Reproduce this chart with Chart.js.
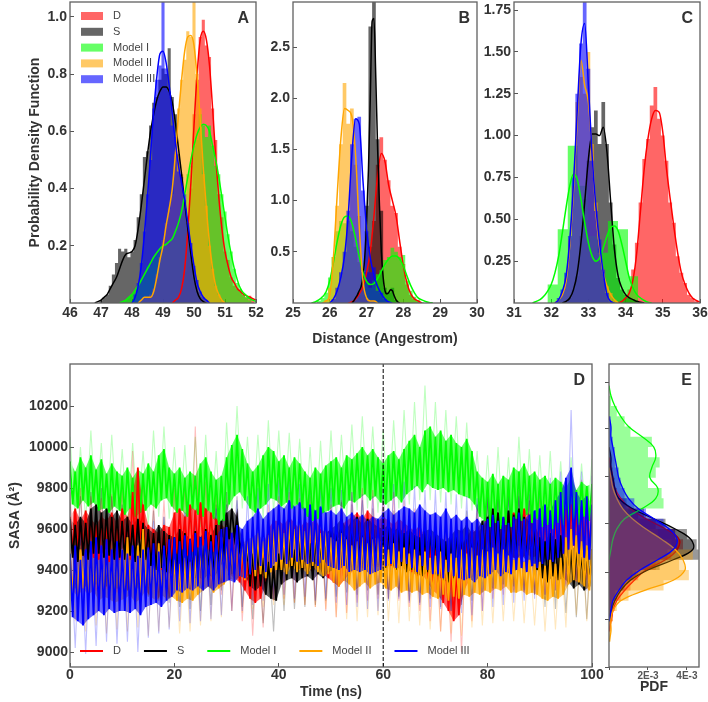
<!DOCTYPE html>
<html>
<head>
<meta charset="utf-8">
<script src="https://cdn.jsdelivr.net/npm/chart.js@4.4.1/dist/chart.umd.min.js"></script>
<style>
  html, body { margin: 0; padding: 0; background: #fff; }
  body { position: relative; width: 708px; height: 702px; overflow: hidden; }
  canvas { position: absolute; }
</style>
</head>
<body>
<canvas id="panelA" width="268" height="353" style="left:0;top:0"></canvas>
<canvas id="panelB" width="249" height="353" style="left:240px;top:0"></canvas>
<canvas id="panelC" width="228" height="353" style="left:480px;top:0"></canvas>
<canvas id="panelD" width="604" height="349" style="left:0;top:353px"></canvas>
<canvas id="panelE" width="116" height="349" style="left:592px;top:353px"></canvas>
<script>
// series: D, S, Model I, Model II, Model III
const seriesNames = ['D', 'S', 'Model I', 'Model II', 'Model III'];
const seriesColors = ['#ff0000', '#000000', '#00ff00', '#ffa500', '#0000ff'];
const seriesRgb = ['255,0,0', '0,0,0', '0,255,0', '255,165,0', '0,0,255'];

// ---- panel A (distance 46-52)
const aKdeStart = [49.3, 46.8, 47.6, 48.2, 48.0];
const aKdeD = [0.00,0.01,0.02,0.05,0.12,0.25,0.42,0.62,0.80,0.92,0.95,0.92,0.83,0.68,0.51,0.37,0.26,0.18,0.13,0.09,0.07,0.05,0.04,0.03,0.025,0.02,0.015,0.01];
const aKdeS = [0.00,0.005,0.01,0.02,0.03,0.05,0.07,0.09,0.12,0.15,0.17,0.175,0.18,0.20,0.26,0.34,0.43,0.52,0.60,0.66,0.71,0.74,0.755,0.755,0.74,0.70,0.63,0.54,0.45,0.35,0.26,0.17,0.09,0.04,0.015,0.005,0.0];
const aKdeM1 = [0.0,0.005,0.01,0.02,0.03,0.045,0.06,0.08,0.10,0.12,0.14,0.16,0.175,0.19,0.20,0.205,0.215,0.225,0.25,0.28,0.32,0.38,0.44,0.50,0.55,0.59,0.615,0.625,0.62,0.60,0.55,0.50,0.44,0.37,0.30,0.23,0.17,0.12,0.08,0.05,0.035,0.025,0.015,0.01,0.005];
const aKdeM2 = [0.0,0.01,0.02,0.02,0.02,0.04,0.09,0.15,0.20,0.27,0.33,0.40,0.52,0.66,0.78,0.88,0.93,0.935,0.90,0.79,0.64,0.47,0.33,0.21,0.12,0.06,0.03,0.01,0.0];
const aKdeM3 = [0.0,0.02,0.06,0.13,0.24,0.37,0.52,0.67,0.79,0.87,0.88,0.84,0.76,0.66,0.56,0.48,0.42,0.36,0.28,0.20,0.13,0.07,0.04,0.02,0.01,0.0];
const aHistStart = [49.3, 47.0, 47.8, 48.3, 48.1];
const aHistD = [0,0.01,0.02,0.06,0.11,0.27,0.40,0.66,0.78,0.93,0.99,0.90,0.86,0.68,0.57,0.38,0.30,0.18,0.15,0.09,0.06,0.05,0.04,0.03,0.02,0.025,0.01];
const aHistS = [0.01,0.02,0.03,0.06,0.10,0.14,0.19,0.18,0.19,0.16,0.18,0.22,0.30,0.38,0.51,0.53,0.62,0.70,0.72,0.78,0.82,0.80,0.89,0.72,0.66,0.52,0.45,0.33,0.27,0.16,0.09,0.04,0.02];
const aHistM1 = [0.01,0.02,0.03,0.04,0.06,0.08,0.10,0.13,0.13,0.16,0.17,0.19,0.20,0.21,0.20,0.23,0.26,0.27,0.33,0.36,0.45,0.48,0.55,0.57,0.66,0.62,0.58,0.62,0.55,0.48,0.45,0.38,0.32,0.24,0.18,0.12,0.07,0.05,0.03,0.02,0.01];
const aHistM2 = [0.01,0.02,0.02,0.03,0.05,0.10,0.16,0.22,0.28,0.33,0.38,0.52,0.68,0.78,0.85,0.95,0.93,1.10,0.80,0.68,0.45,0.34,0.20,0.12,0.06,0.03,0.01];
const aHistM3 = [0.03,0.07,0.14,0.25,0.38,0.50,0.68,0.78,0.83,1.10,0.82,0.74,0.62,0.58,0.46,0.44,0.38,0.28,0.21,0.13,0.08,0.04,0.02,0.01];
const aXTicks = [46, 47, 48, 49, 50, 51, 52];
const aYTicks = [0.2, 0.4, 0.6, 0.8, 1.0];

// ---- panel B (distance 25-30)
const bKdeStart = [26.5, 26.6, 25.5, 25.8, 26.0];
const bKdeStep = [0.1, 0.05, 0.1, 0.1, 0.1];
const bKdeD = [0.0,0.01,0.04,0.09,0.16,0.30,0.50,0.85,1.25,1.46,1.38,1.15,1.00,0.85,0.60,0.36,0.19,0.09,0.04,0.02,0.0];
const bKdeS = [0.0,0.02,0.05,0.08,0.12,0.16,0.25,0.45,0.80,1.30,2.00,2.75,2.78,2.20,1.50,0.95,0.50,0.25,0.12,0.09,0.10,0.13,0.12,0.07,0.03,0.01,0.0];
const bKdeM1 = [0.0,0.01,0.03,0.06,0.11,0.22,0.40,0.60,0.76,0.84,0.85,0.78,0.63,0.45,0.30,0.21,0.18,0.19,0.24,0.31,0.38,0.43,0.46,0.46,0.43,0.36,0.26,0.17,0.10,0.05,0.03,0.015,0.005,0.0];
const bKdeM2 = [0.0,0.02,0.08,0.45,1.05,1.60,1.90,1.88,1.82,1.45,0.75,0.22,0.05,0.02,0.02,0.0];
const bKdeM3 = [0.0,0.04,0.12,0.25,0.46,0.85,1.45,1.80,1.75,1.20,0.72,0.44,0.27,0.16,0.09,0.04,0.01,0.0];
const bHistStart = [26.6, 26.7, 25.7, 25.9, 26.1];
const bHistD = [0.01,0.03,0.08,0.17,0.30,0.55,0.80,1.35,1.62,1.40,1.20,0.95,0.88,0.55,0.38,0.18,0.08,0.04,0.02];
const bHistS = [0.03,0.10,0.30,0.95,2.70,3.00,1.60,0.90,0.15,0.10,0.15,0.03];
const bHistM1 = [0.02,0.05,0.10,0.25,0.45,0.70,0.80,0.78,0.80,0.70,0.55,0.40,0.28,0.20,0.15,0.22,0.28,0.32,0.42,0.45,0.54,0.50,0.45,0.47,0.22,0.12,0.06,0.03,0.01];
const bHistM2 = [0.03,0.15,0.45,0.95,1.55,2.15,1.75,1.90,1.35,0.85,0.20,0.05,0.02,0.03];
const bHistM3 = [0.04,0.15,0.30,0.50,0.90,1.55,1.80,1.82,1.10,0.70,0.30,0.35,0.12,0.10,0.04,0.01];
const bXTicks = [25, 26, 27, 28, 29, 30];
const bYTicks = [0.5, 1.0, 1.5, 2.0, 2.5];

// ---- panel C (distance 31-36)
const cKdeStart = [33.8, 32.3, 31.5, 32.1, 32.1];
const cKdeD = [0.0,0.01,0.03,0.06,0.14,0.30,0.55,0.80,0.98,1.10,1.15,1.14,1.02,0.80,0.62,0.45,0.30,0.18,0.11,0.06,0.03,0.015,0.005];
const cKdeS = [0.0,0.01,0.03,0.08,0.18,0.36,0.60,0.86,1.01,1.01,1.00,1.05,0.90,0.60,0.32,0.16,0.09,0.05,0.03,0.02,0.01,0.005,0.0];
const cKdeM1 = [0.0,0.01,0.02,0.04,0.07,0.11,0.18,0.28,0.42,0.57,0.70,0.77,0.74,0.62,0.48,0.36,0.28,0.25,0.27,0.33,0.40,0.45,0.46,0.43,0.35,0.25,0.15,0.09,0.05,0.03,0.015,0.005,0.0];
const cKdeM2 = [0.0,0.02,0.05,0.13,0.35,0.68,1.10,1.45,1.30,1.20,0.90,0.55,0.33,0.18,0.10,0.05,0.02,0.0];
const cKdeM3 = [0.0,0.02,0.07,0.16,0.38,0.72,1.15,1.55,1.67,1.30,0.88,0.58,0.36,0.18,0.05,0.01,0.0];
const cHistStart = [33.9, 32.5, 32.04, 32.2, 32.2];
const cHistStep = [0.1, 0.1, 0.27, 0.1, 0.1];
const cHistD = [0.01,0.03,0.08,0.20,0.36,0.60,0.86,0.98,1.18,1.29,1.10,1.00,0.85,0.60,0.48,0.28,0.18,0.12,0.05,0.03,0.01];
const cHistS = [0.03,0.08,0.16,0.40,0.62,0.85,1.05,1.15,0.95,1.20,0.95,0.60,0.35,0.15,0.08,0.05,0.03,0.02,0.01];
const cHistM1 = [0.11,0.44,0.94,0.70,0.40,0.30,0.49,0.44,0.16];
const cHistM2 = [0.02,0.06,0.15,0.38,0.70,1.20,1.35,1.25,1.50,0.95,0.60,0.30,0.20,0.10,0.06,0.02];
const cHistM3 = [0.03,0.08,0.18,0.40,0.75,1.25,1.55,1.82,1.40,0.85,0.55,0.38,0.20,0.06,0.01];
const cXTicks = [31, 32, 33, 34, 35, 36];
const cYTicks = [0.25, 0.5, 0.75, 1.0, 1.25, 1.5, 1.75];

// ---- panel D (SASA vs time); dense trace read every 0.5 ns (alternating top / bottom of the band), raw spread every 1 ns
const dStep = 0.5;
const dRawStep = 1;
const dTraceM1 = [9930,9720,9880,9700,9950,9740,9900,9710,9960,9730, 9890,9690,9940,9700,9870,9680,9920,9710,9880,9690, 9860,9670,9900,9700,9850,9660,9890,9680,9870,9690, 9920,9720,9880,9700,9960,9740,9990,9750,9900,9710,
  9870,9680,9900,9690,9850,9660,9880,9700,9860,9670, 9920,9660,9950,9690,9880,9650,9840,9620,9860,9640, 9950,9720,10010,9760,10060,9780,9990,9740,9920,9700, 9880,9680,9910,9700,9960,9720,10000,9750,9980,9740,
  9930,9710,9960,9730,9900,9700,9950,9720,9920,9700, 9880,9660,9850,9640,9900,9650,9870,9680,9910,9690, 9930,9710,9950,9720,9900,9700,9960,9740,9940,9730, 9970,9750,10000,9770,9960,9740,9990,9760,9950,9730,
  9920,9720,9960,9740,9980,9760,9940,9730,9990,9770, 10030,9790,10060,9810,10000,9780,10080,9820,10100,9800, 10050,9790,10080,9800,10030,9780,10060,9790,10020,9770, 10000,9760,10040,9750,9980,9720,9880,9660,9850,9640,
  9830,9610,9870,9630,9820,9600,9860,9620,9840,9610, 9900,9650,9880,9640,9920,9670,9860,9630,9880,9650, 9840,9610,9860,9620,9820,9600,9850,9630,9830,9620, 9800,9630,9850,9650,9790,9620,9830,9660,9810,9640, 9820];
const dTraceD = [9660,9480,9700,9500,9640,9470,9690,9490,9650,9460, 9620,9450,9660,9470,9640,9440,9680,9460,9630,9450, 9700,9470,9660,9450,9780,9500,9900,9550,9720,9460, 9620,9430,9600,9420,9580,9400,9620,9430,9610,9440,
  9680,9480,9700,9500,9660,9470,9720,9490,9690,9510, 9730,9520,9700,9500,9680,9490,9650,9460,9620,9430, 9600,9380,9580,9360,9550,9340,9480,9300,9450,9260, 9440,9240,9470,9260,9520,9330,9600,9420,9640,9440,
  9640,9420,9620,9400,9660,9430,9630,9410,9600,9400, 9640,9410,9620,9390,9650,9420,9600,9380,9580,9360, 9600,9340,9560,9320,9620,9350,9640,9380,9660,9400, 9680,9420,9650,9400,9690,9430,9660,9410,9640,9420,
  9660,9430,9640,9420,9620,9400,9650,9430,9630,9410, 9610,9390,9590,9370,9620,9380,9560,9340,9520,9300, 9500,9280,9460,9240,9480,9200,9440,9150,9400,9180, 9520,9300,9560,9350,9600,9380,9580,9400,9610,9420,
  9640,9430,9660,9440,9620,9420,9650,9450,9670,9460, 9680,9460,9660,9450,9700,9480,9670,9460,9650,9470, 9640,9450,9660,9460,9620,9440,9650,9470,9680,9480, 9700,9500,9720,9520,9690,9490,9710,9510,9700,9500, 9690];
const dTraceS = [9650,9460,9620,9440,9660,9470,9630,9450,9700,9480, 9720,9480,9680,9460,9700,9470,9660,9450,9690,9460, 9640,9450,9660,9470,9620,9440,9650,9460,9630,9450, 9600,9420,9580,9400,9620,9410,9590,9390,9570,9380,
  9560,9360,9600,9380,9580,9370,9550,9350,9590,9370, 9560,9350,9600,9380,9570,9360,9620,9400,9640,9450, 9680,9550,9700,9560,9660,9500,9550,9380,9500,9320, 9480,9300,9500,9320,9460,9280,9440,9260,9420,9250,
  9480,9330,9520,9350,9550,9360,9500,9340,9540,9360, 9560,9370,9530,9350,9570,9380,9550,9360,9580,9390, 9600,9400,9620,9420,9650,9430,9600,9400,9640,9430, 9660,9440,9620,9420,9650,9450,9630,9430,9610,9420,
  9600,9410,9620,9430,9590,9400,9610,9420,9580,9390, 9600,9400,9570,9380,9560,9370,9590,9390,9600,9400, 9580,9370,9560,9350,9540,9340,9570,9360,9600,9380, 9590,9390,9620,9410,9580,9380,9600,9400,9640,9440,
  9660,9450,9700,9480,9680,9460,9650,9440,9690,9470, 9670,9450,9700,9480,9660,9440,9640,9430,9620,9400, 9560,9360,9540,9340,9580,9370,9550,9350,9570,9360, 9540,9340,9500,9310,9520,9330,9490,9300,9510,9320, 9500];
const dTraceM2 = [9480,9300,9450,9270,9500,9310,9460,9280,9490,9300, 9440,9250,9480,9270,9500,9260,9460,9240,9470,9250, 9500,9260,9560,9280,9480,9240,9520,9260,9600,9300, 9500,9270,9470,9250,9530,9280,9490,9260,9510,9270,
  9450,9250,9430,9240,9460,9260,9440,9250,9470,9280, 9520,9300,9550,9320,9500,9290,9540,9310,9560,9330, 9540,9360,9520,9350,9560,9370,9530,9350,9550,9380, 9560,9370,9580,9380,9540,9360,9570,9390,9600,9400,
  9620,9400,9580,9380,9640,9420,9600,9390,9620,9410, 9590,9380,9650,9420,9610,9390,9580,9370,9600,9380, 9560,9340,9540,9320,9580,9350,9550,9330,9520,9300, 9540,9320,9560,9340,9530,9310,9550,9330,9560,9340,
  9520,9310,9500,9300,9530,9320,9490,9290,9510,9300, 9480,9290,9500,9300,9470,9280,9490,9290,9460,9270, 9470,9260,9490,9280,9450,9250,9480,9270,9460,9260, 9500,9280,9480,9270,9510,9290,9470,9280,9500,9300,
  9490,9290,9510,9310,9480,9300,9500,9320,9470,9290, 9450,9290,9460,9300,9440,9280,9450,9290,9430,9280, 9440,9260,9420,9250,9450,9270,9430,9260,9460,9280, 9560,9330,9600,9350,9570,9340,9540,9320,9520,9300, 9500];
const dTraceM3 = [9480,9170,9520,9150,9450,9130,9500,9160,9540,9180, 9560,9200,9520,9180,9550,9210,9500,9190,9540,9200, 9500,9200,9480,9190,9520,9210,9470,9180,9500,9220, 9510,9230,9530,9240,9490,9220,9520,9250,9550,9270,
  9560,9300,9540,9290,9570,9310,9550,9300,9580,9320, 9560,9300,9590,9320,9540,9300,9570,9330,9600,9340, 9610,9350,9580,9340,9620,9370,9600,9360,9640,9380, 9660,9400,9700,9420,9650,9390,9680,9410,9700,9440,
  9720,9450,9700,9430,9740,9460,9710,9440,9730,9450, 9700,9430,9720,9440,9690,9420,9710,9450,9680,9420, 9690,9410,9670,9400,9700,9420,9660,9390,9680,9400, 9650,9390,9670,9400,9640,9380,9660,9390,9650,9400,
  9680,9420,9700,9430,9670,9410,9690,9440,9710,9430, 9700,9410,9680,9390,9720,9420,9690,9400,9670,9380, 9680,9380,9660,9360,9700,9390,9650,9370,9670,9360, 9640,9350,9660,9360,9630,9340,9650,9370,9620,9360,
  9650,9380,9670,9400,9640,9370,9660,9390,9630,9380, 9660,9400,9680,9410,9650,9390,9670,9420,9690,9410, 9700,9430,9720,9450,9690,9440,9740,9460,9780,9480, 9850,9500,9900,9520,9780,9480,9740,9460,9760,9450, 9720];
const dRawM1 = [10050,9650,10000,9640,10080,9660,10020,9620,10060,9640, 9990,9610,10020,9630,9980,9620,10080,9660,10100,9650, 10000,9620,10010,9600,10050,9610,10060,9590,9980,9570, 10120,9680,10200,9700,10050,9640,10060,9650,10130,9680,
  10080,9650,10070,9660,10040,9600,10000,9590,10030,9620, 10080,9650,10060,9660,10110,9690,10150,9700,10100,9680, 10080,9670,10130,9700,10180,9720,10220,9740,10300,9740, 10220,9730,10180,9720,10150,9700,10120,9690,9980,9590,
  9960,9560,10000,9570,9950,9560,10050,9590,9990,9580, 9960,9560,9980,9570,9930,9580,9950,9590,9920,9600, 9940];
const dRawD = [9780,9330,9800,9320,9760,9300,9750,9310,9770,9290, 9800,9300,9980,9320,9850,9280,9720,9260,9740,9270, 9800,9320,9820,9300,10100,9330,9830,9320,9780,9280, 9720,9200,9680,9150,9600,9080,9580,9120,9720,9250,
  9760,9260,9780,9240,9750,9230,9760,9220,9700,9200, 9720,9170,9740,9190,9780,9240,9800,9250,9790,9260, 9760,9260,9780,9250,9740,9220,9700,9200,9680,9150, 9620,9100,9580,9050,9600,9000,9660,9150,9700,9200,
  9760,9260,9780,9280,9800,9300,9790,9290,9770,9280, 9760,9280,9780,9300,9800,9330,9820,9340,9840,9350, 9800];
const dRawS = [9730,9310,9760,9320,9780,9330,9800,9320,9760,9310, 9720,9300,9740,9310,9700,9270,9690,9250,9660,9240, 9650,9220,9680,9210,9660,9200,9690,9230,9720,9300, 9780,9380,9760,9220,9580,9160,9560,9140,9520,9100,
  9600,9200,9640,9210,9620,9220,9650,9230,9670,9250, 9700,9270,9730,9290,9720,9280,9740,9300,9700,9280, 9700,9260,9690,9270,9680,9250,9660,9240,9690,9260, 9660,9220,9640,9200,9650,9230,9690,9250,9720,9290,
  9760,9310,9790,9330,9780,9320,9760,9300,9740,9280, 9650,9220,9670,9210,9640,9190,9620,9170,9600,9160, 9620];
const dRawM2 = [9540,9150,9520,9100,9560,9130,9520,9090,9540,9110, 9620,9100,9660,9120,9580,9080,9560,9100,9580,9120, 9520,9090,9500,9100,9540,9130,9600,9150,9630,9170, 9600,9200,9620,9190,9620,9210,9640,9220,9660,9230,
  9690,9230,9700,9240,9710,9230,9680,9220,9660,9210, 9620,9170,9640,9160,9610,9150,9620,9170,9630,9180, 9590,9150,9580,9140,9600,9150,9560,9130,9550,9110, 9540,9100,9560,9090,9530,9080,9550,9120,9570,9130,
  9560,9140,9570,9150,9540,9150,9520,9140,9500,9130, 9510,9100,9500,9110,9520,9120,9660,9180,9600,9150, 9580];
const dRawM3 = [9580,9020,9620,8990,9600,9030,9660,9050,9640,9040, 9600,9050,9640,9000,9580,9070,9640,9090,9660,9110, 9660,9150,9680,9140,9670,9150,9700,9160,9700,9180, 9720,9200,9740,9200,9760,9230,9800,9250,9820,9260,
  9840,9280,9850,9260,9820,9270,9830,9250,9810,9260, 9800,9240,9790,9230,9780,9220,9770,9210,9760,9200, 9800,9250,9820,9260,9830,9240,9810,9230,9790,9220, 9790,9210,9780,9200,9770,9190,9760,9180,9750,9200,
  9760,9220,9780,9230,9770,9240,9790,9250,9800,9260, 9820,9280,9850,9300,9880,9320,10180,9350,9880,9300, 9860];
const dMarkTime = 60;
const dXTicks = [0, 20, 40, 60, 80, 100];
const dYTicks = [9000, 9200, 9400, 9600, 9800, 10000, 10200];
const sasaMin = 8927, sasaMax = 10405;

// ---- panel E (PDF of SASA, 50-wide bins)
const eBin = 50;
const eKdeStart = [9100, 9150, 9450, 9050, 9150];
const eKdeD = [0.0,0.0001,0.0002,0.0004,0.0008,0.0013,0.0019,0.0029,0.0035,0.0036,0.0029,0.0019,0.0011,0.0006,0.0003,0.0002,0.0001,0.0];
const eKdeS = [0.0,0.0001,0.0003,0.0006,0.0011,0.0020,0.0033,0.0043,0.0042,0.0034,0.0023,0.0012,0.0005,0.0003,0.0002,0.0001,0.0001,0.0];
const eKdeM1 = [0.0,0.0001,0.0002,0.0004,0.0008,0.0017,0.0024,0.0025,0.0021,0.0022,0.0024,0.0023,0.0017,0.0010,0.0006,0.0003,0.0001,0.0];
const eKdeM2 = [0.0,0.0001,0.0001,0.0002,0.0006,0.0018,0.0033,0.0039,0.0038,0.0034,0.0027,0.0019,0.0012,0.0007,0.0004,0.0002,0.0001,0.0];
const eKdeM3 = [0.0,0.0001,0.0002,0.0005,0.0009,0.0016,0.0025,0.0033,0.0035,0.0031,0.0023,0.0015,0.0010,0.0007,0.0005,0.0004,0.0003,0.0002,0.0001,0.0001,0.0];
const eHistStart = [9100, 9150, 9500, 9050, 9150];
const eHistD = [0.0001,0.0002,0.0003,0.0006,0.0011,0.0015,0.0024,0.0032,0.0038,0.0034,0.0024,0.0015,0.0008,0.0004,0.0002,0.0001];
const eHistS = [0.0001,0.0002,0.0004,0.0008,0.0014,0.0026,0.0046,0.0045,0.0040,0.0029,0.0018,0.0009,0.0004,0.0003,0.0002,0.0001];
const eHistM1 = [0.0001,0.0003,0.0006,0.0012,0.0028,0.0027,0.0020,0.0024,0.0026,0.0020,0.0022,0.0011,0.0008,0.0004,0.0001];
const eHistM2 = [0.0001,0.0001,0.0002,0.0004,0.0010,0.0028,0.0041,0.0036,0.0043,0.0032,0.0025,0.0016,0.0010,0.0006,0.0003,0.0002,0.0001];
const eHistM3 = [0.0001,0.0002,0.0003,0.0007,0.0012,0.0021,0.0030,0.0035,0.0034,0.0028,0.0019,0.0013,0.0008,0.0006,0.0005,0.0003,0.0003,0.0002,0.0001,0.0001];
const eXTicks = [0, 0.002, 0.004];
const eXLabels = ['', '2E-3', '4E-3'];
const eYTicks = [8927, 9160, 9390, 9625, 9855, 10088, 10317];

// ------------------------------------------------------------------
const FONT = '"Liberation Sans", Arial, Helvetica, sans-serif';
Chart.defaults.font.family = FONT;
Chart.defaults.color = '#333';
const bold14 = {family: FONT, size: 14, weight: 'bold'};

function rgba(k, a) { return 'rgba(' + seriesRgb[k] + ',' + a + ')'; }

// bins centred on start + i*step, padded with empty bins so the step closes
function binPoints(start, step, values) {
  const pts = [{x: start - step, y: 0}];
  values.forEach((v, i) => pts.push({x: start + i * step, y: v}));
  pts.push({x: start + values.length * step, y: 0});
  return pts;
}
function curvePoints(start, step, values) {
  return values.map((v, i) => ({x: start + i * step, y: v}));
}
// tops (even samples) and bottoms (odd samples) of a dense trace
function bandEdges(values, step) {
  const top = [], bottom = [];
  values.forEach((v, i) => (i % 2 ? bottom : top).push({x: i * step, y: v}));
  return [top, bottom];
}
// horizontal bins for panel E: value axis is x, SASA on y
function sideBinPoints(start, step, values) {
  const pts = [{x: 0, y: start}];
  values.forEach((v, i) => pts.push({x: v, y: start + (i + 1) * step}));
  pts.push({x: 0, y: start + values.length * step});
  return pts;
}
function sideCurvePoints(start, step, values) {
  return values.map((v, i) => ({x: v, y: start + i * step}));
}

function axis(o) {
  return {
    type: 'linear', min: o.min, max: o.max,
    afterBuildTicks: s => { s.ticks = o.ticks.map(v => ({value: v})); },
    afterFit: s => {
      if (s.isHorizontal()) { s.height = o.size; s.paddingLeft = 0; s.paddingRight = 0; }
      else { s.width = o.size; s.paddingTop = 0; s.paddingBottom = 0; }
    },
    ticks: {font: o.font || bold14, color: o.color || '#333', padding: o.pad, autoSkip: false,
            maxRotation: 0, minRotation: 0, callback: o.fmt},
    grid: {drawOnChartArea: false, drawTicks: true, tickLength: o.tl, color: '#555', lineWidth: 1},
    border: {display: false},
    title: o.title ? {display: true, text: o.title, font: bold14, color: '#333', padding: o.titlePad} : {display: false}
  };
}

// frame around the plot area
const frame = {
  id: 'frame',
  afterDraw(chart) {
    const {ctx, chartArea: a} = chart;
    ctx.save();
    ctx.strokeStyle = '#606060';
    ctx.lineWidth = 1.3;
    ctx.strokeRect(a.left, a.top, a.right - a.left, a.bottom - a.top);
    ctx.restore();
  }
};
const panelTag = {
  id: 'panelTag',
  afterDraw(chart, args, opts) {
    if (!opts.text) return;
    const {ctx, chartArea: a} = chart;
    ctx.save();
    ctx.font = 'bold 16px ' + FONT;
    ctx.fillStyle = '#333';
    ctx.textAlign = 'right';
    ctx.textBaseline = 'middle';
    ctx.fillText(opts.text, a.right - 7, a.top + 17);
    ctx.restore();
  }
};
const boxLegend = {
  id: 'boxLegend',
  afterDatasetsDraw(chart, args, opts) {
    if (!opts.items) return;
    const {ctx, chartArea: a} = chart;
    ctx.save();
    ctx.font = '11px ' + FONT;
    ctx.textBaseline = 'middle';
    opts.items.forEach((it, i) => {
      const y = a.top + 14 + i * 15.8;
      ctx.fillStyle = it.color;
      ctx.fillRect(a.left + 11, y - 4, 22, 8);
      ctx.fillStyle = '#444';
      ctx.fillText(it.text, a.left + 43, y);
    });
    ctx.restore();
  }
};
const lineLegend = {
  id: 'lineLegend',
  afterDatasetsDraw(chart, args, opts) {
    if (!opts.items) return;
    const {ctx, chartArea: a} = chart;
    ctx.save();
    ctx.font = '11px ' + FONT;
    ctx.textBaseline = 'middle';
    const y = a.bottom - 16;
    let x = a.left + 10;
    opts.items.forEach(it => {
      ctx.strokeStyle = it.color;
      ctx.lineWidth = 2;
      ctx.beginPath(); ctx.moveTo(x, y); ctx.lineTo(x + 23, y); ctx.stroke();
      ctx.fillStyle = '#444';
      ctx.fillText(it.text, x + 33, y);
      x += 33 + ctx.measureText(it.text).width + 23;
    });
    ctx.restore();
  }
};

function stackOrder(sets) {
  sets.forEach((d, i) => { d.order = sets.length - i; });
  return sets;
}

function baseOptions(padding) {
  return {
    responsive: false, devicePixelRatio: 1, animation: false, events: [],
    layout: {padding},
    elements: {point: {radius: 0}}
  };
}

function distPanel(id, p) {
  const sets = [];
  p.hist.forEach((vals, k) => sets.push({
    data: binPoints(p.histStart[k], p.histStep[k], vals), stepped: 'middle',
    borderWidth: 0, borderColor: 'transparent', backgroundColor: rgba(k, 0.6), fill: 'origin'
  }));
  p.kde.forEach((vals, k) => sets.push({
    data: curvePoints(p.kdeStart[k], p.kdeStep[k], vals), borderColor: seriesColors[k],
    borderWidth: 1.5, fill: false, cubicInterpolationMode: 'monotone'
  }));
  const opts = baseOptions(p.padding);
  opts.scales = {
    x: axis({min: p.xMin, max: p.xMax, ticks: p.xTicks, size: 50, pad: 6, tl: -4, fmt: v => String(v),
             title: p.xTitle, titlePad: {top: 0, bottom: 5}}),
    y: axis({min: 0, max: p.yMax, ticks: p.yTicks, size: p.yWidth, pad: 7, tl: -4, fmt: v => v.toFixed(p.yDigits),
             title: p.yTitle, titlePad: {top: 27, bottom: 0}})
  };
  opts.plugins = {
    legend: {display: false}, tooltip: {enabled: false},
    panelTag: {text: p.tag},
    boxLegend: {items: p.legend}
  };
  new Chart(document.getElementById(id), {
    type: 'line', data: {datasets: stackOrder(sets)}, options: opts,
    plugins: [frame, panelTag, boxLegend]
  });
}

distPanel('panelA', {
  tag: 'A', padding: {left: 0, right: 12, top: 2, bottom: 0}, yWidth: 70,
  xMin: 46, xMax: 52, yMax: 1.052, xTicks: aXTicks, yTicks: aYTicks, yDigits: 1,
  yTitle: 'Probability Density Function',
  hist: [aHistD, aHistS, aHistM1, aHistM2, aHistM3], histStart: aHistStart, histStep: [0.1, 0.1, 0.1, 0.1, 0.1],
  kde: [aKdeD, aKdeS, aKdeM1, aKdeM2, aKdeM3], kdeStart: aKdeStart, kdeStep: [0.1, 0.1, 0.1, 0.1, 0.1],
  legend: seriesNames.map((n, k) => ({text: n, color: rgba(k, 0.6)}))
});
distPanel('panelB', {
  tag: 'B', padding: {left: 0, right: 12, top: 2, bottom: 0}, yWidth: 53,
  xMin: 25, xMax: 30, yMax: 2.94, xTicks: bXTicks, yTicks: bYTicks, yDigits: 1,
  xTitle: 'Distance (Angestrom)',
  hist: [bHistD, bHistS, bHistM1, bHistM2, bHistM3], histStart: bHistStart, histStep: [0.1, 0.1, 0.1, 0.1, 0.1],
  kde: [bKdeD, bKdeS, bKdeM1, bKdeM2, bKdeM3], kdeStart: bKdeStart, kdeStep: bKdeStep
});
distPanel('panelC', {
  tag: 'C', padding: {left: 0, right: 8, top: 2, bottom: 0}, yWidth: 34,
  xMin: 31, xMax: 36, yMax: 1.798, xTicks: cXTicks, yTicks: cYTicks, yDigits: 2,
  hist: [cHistD, cHistS, cHistM1, cHistM2, cHistM3], histStart: cHistStart, histStep: cHistStep,
  kde: [cKdeD, cKdeS, cKdeM1, cKdeM2, cKdeM3], kdeStart: cKdeStart, kdeStep: [0.1, 0.1, 0.1, 0.1, 0.1]
});

// ---- panel D
(function () {
  const traces = [dTraceD, dTraceS, dTraceM1, dTraceM2, dTraceM3];
  const raws = [dRawD, dRawS, dRawM1, dRawM2, dRawM3];
  const drawOrder = [2, 0, 1, 3, 4]; // Model I at the back, Model III on top
  const sets = [];
  // band under each trace, then faint raw spread, then the dense traces
  drawOrder.forEach(k => {
    const [top, bottom] = bandEdges(traces[k], dStep);
    sets.push({data: top, borderWidth: 0, borderColor: 'transparent', backgroundColor: rgba(k, 0.6),
               fill: '+1', tension: 0});
    sets.push({data: bottom, borderWidth: 0, borderColor: 'transparent', fill: false, tension: 0});
  });
  drawOrder.forEach(k => sets.push({
    data: curvePoints(0, dRawStep, raws[k]), borderColor: rgba(k, 0.25), borderWidth: 1.1, fill: false, tension: 0
  }));
  drawOrder.forEach(k => sets.push({
    data: curvePoints(0, dStep, traces[k]), borderColor: seriesColors[k], borderWidth: 1.8, fill: false, tension: 0
  }));
  sets.push({
    data: [{x: dMarkTime, y: sasaMin}, {x: dMarkTime, y: sasaMax}],
    borderColor: '#000', borderWidth: 1, borderDash: [4, 2], fill: false
  });
  const opts = baseOptions({left: 0, right: 12, top: 11, bottom: 0});
  opts.scales = {
    x: axis({min: 0, max: 100, ticks: dXTicks, size: 35, pad: 4, tl: -4, fmt: v => String(v),
             title: 'Time (ns)', titlePad: {top: 0, bottom: 1}}),
    y: axis({min: sasaMin, max: sasaMax, ticks: dYTicks, size: 70, pad: 6, tl: -4, fmt: v => String(v),
             title: 'SASA (Å²)', titlePad: {top: 7, bottom: 0}})
  };
  opts.plugins = {
    legend: {display: false}, tooltip: {enabled: false},
    panelTag: {text: 'D'},
    lineLegend: {items: seriesNames.map((n, k) => ({text: n, color: seriesColors[k]}))}
  };
  new Chart(document.getElementById('panelD'), {
    type: 'line', data: {datasets: stackOrder(sets)}, options: opts,
    plugins: [frame, panelTag, lineLegend]
  });
})();

// ---- panel E
(function () {
  const hists = [eHistD, eHistS, eHistM1, eHistM2, eHistM3];
  const kdes = [eKdeD, eKdeS, eKdeM1, eKdeM2, eKdeM3];
  const sets = [];
  hists.forEach((vals, k) => sets.push({
    data: sideBinPoints(eHistStart[k], eBin, vals), stepped: true,
    borderWidth: 0, borderColor: 'transparent', backgroundColor: rgba(k, 0.4), fill: 'origin'
  }));
  kdes.forEach((vals, k) => sets.push({
    data: sideCurvePoints(eKdeStart[k], eBin, vals), borderColor: seriesColors[k], borderWidth: 1.3,
    tension: 0.4, fill: k === 2 ? false : 'origin', backgroundColor: rgba(k, 0.3)
  }));
  const opts = baseOptions({left: 0, right: 9, top: 11, bottom: 0});
  opts.indexAxis = 'y';
  opts.scales = {
    x: axis({min: 0, max: 0.00462, ticks: eXTicks, size: 35, pad: 0, tl: 3,
             font: {family: FONT, size: 10, weight: 'bold'}, color: '#555',
             fmt: (v, i) => eXLabels[i], title: 'PDF', titlePad: {top: 0, bottom: 6}}),
    y: axis({min: sasaMin, max: sasaMax, ticks: eYTicks, size: 17, pad: 0, tl: 4, fmt: () => ''})
  };
  opts.plugins = {legend: {display: false}, tooltip: {enabled: false}, panelTag: {text: 'E'}};
  new Chart(document.getElementById('panelE'), {
    type: 'line', data: {datasets: stackOrder(sets)}, options: opts,
    plugins: [frame, panelTag]
  });
})();
</script>
</body>
</html>
